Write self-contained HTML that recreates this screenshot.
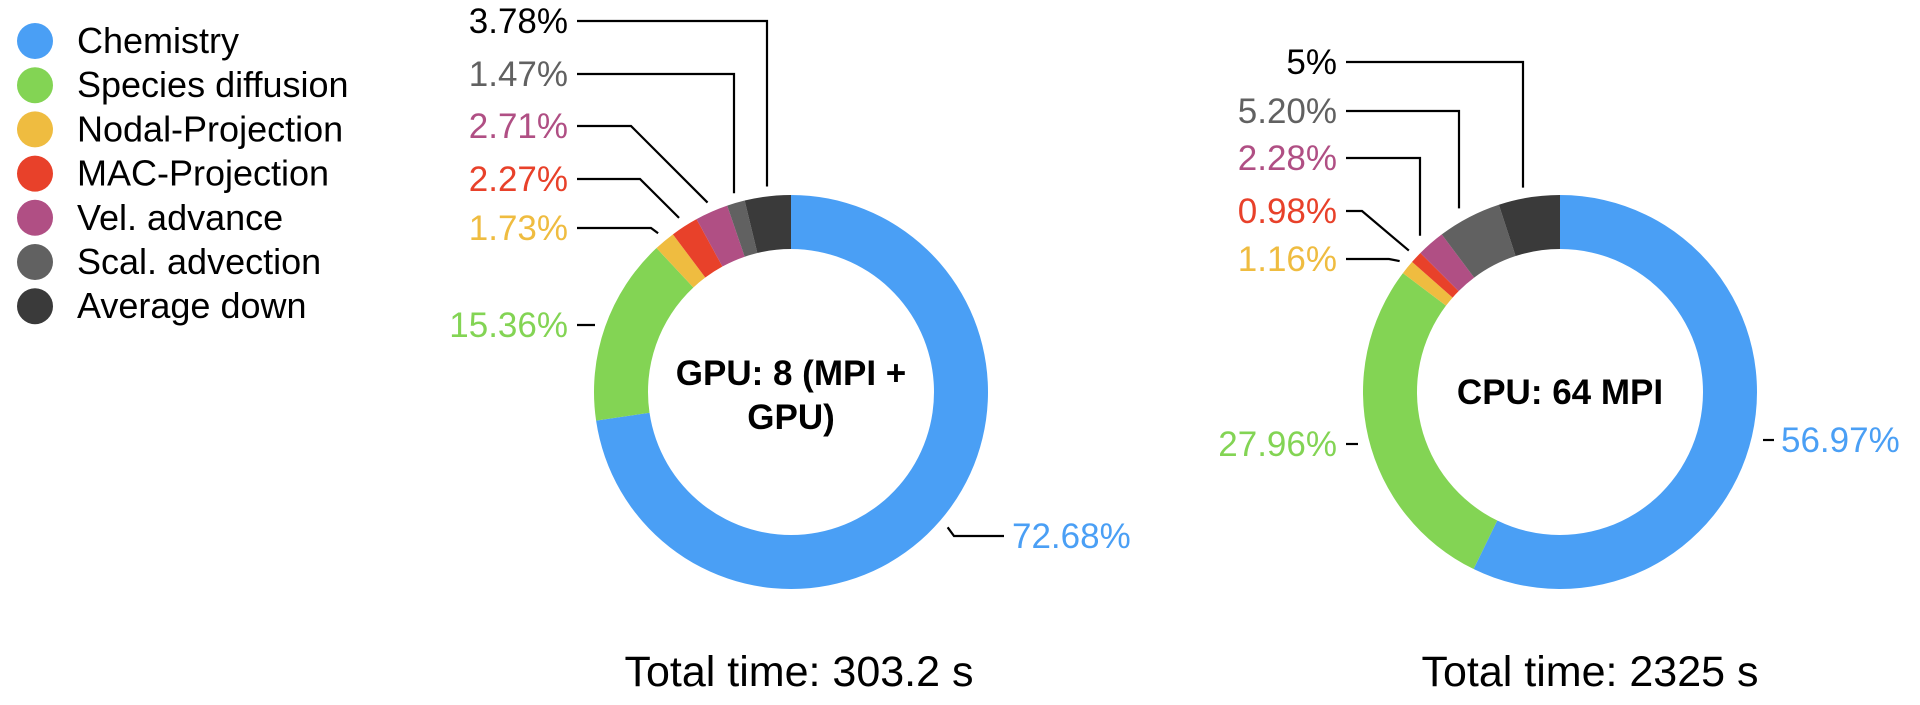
<!DOCTYPE html>
<html><head><meta charset="utf-8"><style>
html,body{margin:0;padding:0;background:#fff;}
body{width:1920px;height:700px;overflow:hidden;font-family:"Liberation Sans",sans-serif;}
svg text{font-family:"Liberation Sans",sans-serif;}
</style></head><body>
<svg id="chart" width="1920" height="700"></svg>
<script>
const categories=["Chemistry","Species diffusion","Nodal-Projection","MAC-Projection","Vel. advance","Scal. advection","Average down"];
const colors=["#4A9FF5","#83D454","#EFBC40","#E8412A","#B04F84","#616161","#3A3A3A"];
const gpuValues=[72.68,15.36,1.73,2.27,2.71,1.47,3.78];
const cpuValues=[56.97,27.96,1.16,0.98,2.28,5.20,5];
const gpuLabels=["72.68%","15.36%","1.73%","2.27%","2.71%","1.47%","3.78%"];
const cpuLabels=["56.97%","27.96%","1.16%","0.98%","2.28%","5.20%","5%"];
const titles=["Total time: 303.2 s","Total time: 2325 s"];

const NS="http://www.w3.org/2000/svg";
const svg=document.getElementById('chart');
function mk(tag,attrs,parent){const e=document.createElementNS(NS,tag);for(const k in attrs)e.setAttribute(k,attrs[k]);(parent||svg).appendChild(e);return e;}

categories.forEach((c,i)=>{
  const g=mk('g',{});
  
  
  const y=41+i*44.2;
  const ci=mk('circle',{cx:35,cy:y,r:18,fill:colors[i]},g);
  
  
  const t=mk('text',{x:77,y:y+12,'font-size':36,fill:'#000'},g);
  t.textContent=c;
  
  
});

const layouts=[
 {cx:791,cy:392,R:197,r:143,title:"GPU: 8 (MPI +|GPU)",titleX:791,totalX:799,
  lab:[{x:1012,y:536,a:'start',pts:[[1004,536],[954,536]],auto:true},
       {x:568,y:325,a:'end',pts:[[577,325],[595,325]],auto:false},
       {x:568,y:228,a:'end',pts:[[577,228],[651,228]],auto:true},
       {x:568,y:179,a:'end',pts:[[577,179],[640,179]],auto:true},
       {x:568,y:126,a:'end',pts:[[577,126],[631,126]],auto:true},
       {x:568,y:74,a:'end',pts:[[577,74],[734,74],[734,null]],auto:true},
       {x:568,y:21,a:'end',pts:[[577,21],[767,21],[767,null]],auto:true}]},
 {cx:1560,cy:392,R:197,r:143,title:"CPU: 64 MPI",titleX:1560,totalX:1590,
  lab:[{x:1781,y:440,a:'start',pts:[[1774,440],[1763,440]],auto:false},
       {x:1337,y:444,a:'end',pts:[[1346,444],[1358,444]],auto:false},
       {x:1337,y:259,a:'end',pts:[[1346,259],[1389,259]],auto:true},
       {x:1337,y:211,a:'end',pts:[[1346,211],[1362,211]],auto:true},
       {x:1337,y:158,a:'end',pts:[[1346,158],[1420,158],[1420,null]],auto:true},
       {x:1337,y:111,a:'end',pts:[[1346,111],[1459,111],[1459,null]],auto:true},
       {x:1337,y:62,a:'end',pts:[[1346,62],[1523,62],[1523,null]],auto:true}]}
];
const datasets=[gpuValues,cpuValues];
const labelsets=[gpuLabels,cpuLabels];

function pt(cx,cy,rad,ang){return [cx+rad*Math.sin(ang),cy-rad*Math.cos(ang)];}

datasets.forEach((vals,d)=>{
  const L=layouts[d];
  const total=vals.reduce((a,b)=>a+b,0);
  let a0=0;
  const g=mk('g',{});
  
  
  vals.forEach((v,i)=>{
    const a1=a0+v/total*2*Math.PI;
    const large=(a1-a0)>Math.PI?1:0;
    const p1=pt(L.cx,L.cy,L.R,a0),p2=pt(L.cx,L.cy,L.R,a1),p3=pt(L.cx,L.cy,L.r,a1),p4=pt(L.cx,L.cy,L.r,a0);
    const path=mk('path',{d:`M${p1[0]},${p1[1]}A${L.R},${L.R} 0 ${large} 1 ${p2[0]},${p2[1]}L${p3[0]},${p3[1]}A${L.r},${L.r} 0 ${large} 0 ${p4[0]},${p4[1]}Z`,fill:colors[i]},g);
    
    
    const mid=(a0+a1)/2;
    const end=pt(L.cx,L.cy,L.R+10,mid);
    const lb=L.lab[i];
    const pts=lb.pts.map(p=>[p[0],p[1]]);
    const last=pts[pts.length-1];
    if(last[1]===null){last[1]=end[1];} else if(lb.auto){pts.push(end);}
    const pl=mk('polyline',{points:pts.map(p=>p.join(',')).join(' '),fill:'none',stroke:'#000','stroke-width':2.2});
    
    
    const t=mk('text',{x:lb.x,y:lb.y+12,'font-size':35,fill:i===6?'#000':colors[i],'text-anchor':lb.a});
    t.textContent=labelsets[d][i];
    
    
    a0=a1;
  });
  const lines=L.title.split('|');
  lines.forEach((s,k)=>{
    const y=lines.length===1?L.cy+12:L.cy-19+k*44+12;
    const t=mk('text',{x:L.titleX,y:y,'font-size':35,'font-weight':'bold','text-anchor':'middle',fill:'#000'});
    t.textContent=s;
    
    
  });
  const tt=mk('text',{x:L.totalX,y:686,'font-size':43,'text-anchor':'middle',fill:'#000'});
  tt.textContent=titles[d];
  
  
});
</script>
</body></html>
